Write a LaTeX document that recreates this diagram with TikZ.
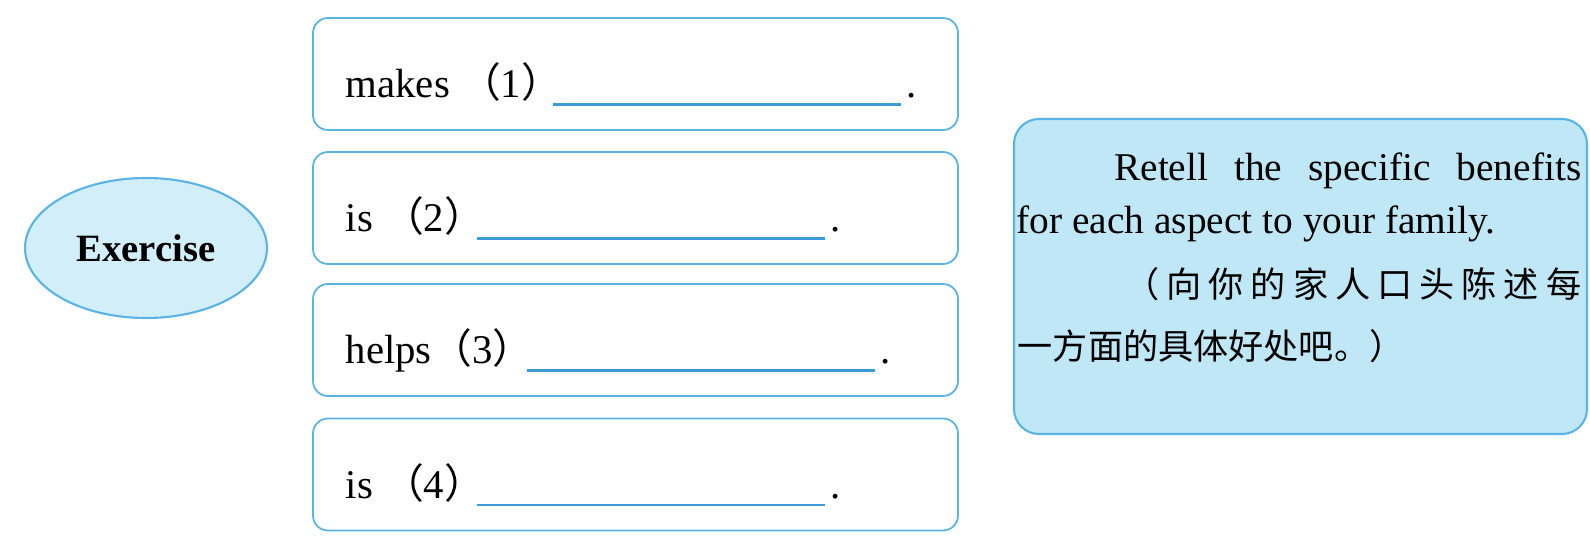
\documentclass[tikz,border=0pt]{standalone}
\usepackage{fontspec}
\setmainfont{Liberation Serif}
\newfontfamily\cjk{Noto Sans CJK SC}
\usetikzlibrary{shapes.geometric}

\definecolor{framecol}{HTML}{5AB4E3}
\definecolor{blankcol}{HTML}{3C9AD8}
\definecolor{ovalfill}{HTML}{D2EEF9}
\definecolor{notefill}{HTML}{C0E7F5}

\tikzset{
    oval/.style={ellipse, draw=framecol, fill=ovalfill, line width=0.6pt,
        minimum width=2.42cm, minimum height=1.40cm, inner sep=0pt,
        font=\fontsize{11}{13}\selectfont\bfseries},
    slot/.style={draw=framecol, rounded corners=0.15cm, line width=0.5pt,
        minimum width=6.45cm, minimum height=1.12cm},
    slottext/.style={inner sep=0pt, anchor=base west, font=\fontsize{11.6}{13}\selectfont},
    blank/.style={draw=blankcol, line width=0.6pt},
    note/.style={draw=framecol, fill=notefill, rounded corners=0.25cm, line width=0.6pt,
        minimum width=5.73cm, minimum height=3.15cm},
    notetext/.style={inner sep=0pt, font=\fontsize{11.2}{13}\selectfont}
}

\begin{document}
\begin{tikzpicture}

    \useasboundingbox (0, 0) rectangle (15.9, 5.48);

    % The oval on the left
    \node[oval] (ex) at (1.46, 3.00) {Exercise};

    % The four boxes, each with a sentence to complete
    \foreach \n/\y/\word/\ux in {1/4.74/{makes~}/5.53, 2/3.40/{is~}/4.77,
                                 3/2.08/{helps}/5.27, 4/0.735/{is~}/4.77} {
        \node[slot] (s\n) at (6.355, \y) {};
        \node[slottext] (t\n) at (3.45, \y-0.235) {\word{\cjk （}\n{\cjk ）}};
        % the blank line and the full stop after it
        \draw[blank] (\ux, \y-0.305) -- (\ux+3.48, \y-0.305);
        \node[slottext] (p\n) at (\ux+3.53, \y-0.235) {.};
    }

    % The note on the right
    \node[note] (note) at (13.005, 2.715) {};
    \node[notetext, anchor=base east] (r1) at (15.82, 3.68)
        {\makebox[4.67cm][s]{Retell the specific benefits}};
    \node[notetext, anchor=base west] (r2) at (10.16, 3.15)
        {for each aspect to your family.};
    \node[notetext, anchor=base east] (r3) at (15.82, 2.51)
        {\cjk\fontsize{10}{12}\selectfont\makebox[4.57cm][s]{（\hfil 向\hfil 你\hfil 的\hfil 家\hfil 人\hfil 口\hfil 头\hfil 陈\hfil 述\hfil 每}};
    \node[notetext, anchor=base west] (r4) at (10.17, 1.89)
        {\cjk\fontsize{10}{12}\selectfont 一方面的具体好处吧。）};

\end{tikzpicture}
\end{document}
